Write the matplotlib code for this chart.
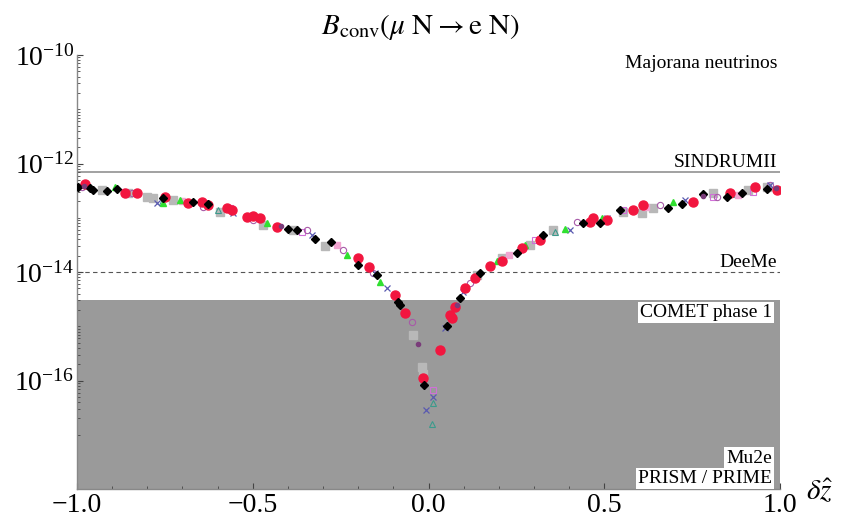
import numpy as np
import matplotlib
matplotlib.use("Agg")
import matplotlib.pyplot as plt
from matplotlib.ticker import FixedLocator, LogFormatterMathtext, MultipleLocator, NullFormatter

plt.rcParams['font.family'] = 'serif'
plt.rcParams['font.serif'] = ['Liberation Serif', 'DejaVu Serif']
plt.rcParams['mathtext.fontset'] = 'stix'

# ---------------- data (x = delta z-hat, values as log10 of B_conv) ----------------
red_x = [-0.977, -0.863, -0.830, -0.750, -0.684, -0.645, -0.627, -0.573, -0.560, -0.516, -0.500, -0.480,
         -0.430, -0.200, -0.170, -0.095, -0.067, -0.016, 0.033, 0.061, 0.067, 0.075, 0.104, 0.132, 0.175,
         0.209, 0.266, 0.317, 0.460, 0.468, 0.508, 0.582, 0.610, 0.752, 0.858, 0.929, 0.991]
red_log = [-12.38, -12.55, -12.54, -12.62, -12.73, -12.71, -12.77, -12.82, -12.86, -12.99, -12.97, -13.00,
           -13.17, -13.74, -13.91, -14.42, -14.76, -15.95, -15.44, -14.79, -14.85, -14.65, -14.29, -14.11, -13.89,
           -13.80, -13.56, -13.41, -13.08, -13.00, -13.04, -12.86, -12.76, -12.71, -12.54, -12.43, -12.49]

black_x = [-0.997, -0.963, -0.954, -0.915, -0.886, -0.755, -0.670, -0.627, -0.400, -0.374, -0.323, -0.277,
           -0.200, -0.147, -0.087, -0.081, -0.013, 0.053, 0.090, 0.147, 0.252, 0.326, 0.440, 0.488, 0.545,
           0.681, 0.721, 0.781, 0.849, 0.892, 0.963]
black_log = [-12.43, -12.45, -12.49, -12.51, -12.47, -12.64, -12.71, -12.75, -13.20, -13.23, -13.39, -13.45,
             -13.87, -14.06, -14.55, -14.61, -16.08, -15.00, -14.48, -14.02, -13.65, -13.32, -13.10, -13.10, -12.86,
             -12.82, -12.75, -12.56, -12.62, -12.54, -12.47]

gray_x = [-0.929, -0.855, -0.800, -0.784, -0.727, -0.593, -0.471, -0.385, -0.294, -0.044, -0.019, -0.016,
          0.138, 0.210, 0.289, 0.354, 0.553, 0.607, 0.639, 0.810, 0.909, 0.963]
gray_log = [-12.49, -12.54, -12.62, -12.64, -12.67, -12.89, -13.13, -13.23, -13.52, -15.16, -15.75, -15.88,
            -14.06, -13.74, -13.50, -13.23, -12.89, -12.91, -12.82, -12.54, -12.49, -12.43]

green_x = [-0.892, -0.755, -0.707, -0.460, -0.232, -0.138, 0.195, 0.275, 0.388, 0.494, 0.696]
green_log = [-12.43, -12.73, -12.67, -13.10, -13.69, -14.18, -13.80, -13.50, -13.21, -13.00, -12.71]

purple_x = [-0.986, -0.844, -0.642, -0.499, -0.346, -0.243, -0.158, -0.047, 0.118, 0.422, 0.659, 0.821, 0.972]
purple_log = [-12.43, -12.54, -12.80, -13.04, -13.23, -13.60, -14.02, -14.92, -14.20, -13.08, -12.76, -12.62, -12.40]

blue_x = [-0.772, -0.556, -0.331, -0.152, -0.118, -0.007, 0.013, 0.047, 0.098, 0.403, 0.508, 0.730, 0.972]
blue_log = [-12.73, -12.91, -13.32, -14.02, -14.29, -16.54, -16.30, -15.03, -14.37, -13.23, -13.00, -12.67, -12.40]

magenta_x = [-0.863, -0.565, -0.360, 0.013, 0.303, 0.553, 0.810, 0.923]
magenta_log = [-12.53, -12.82, -13.26, -16.18, -13.41, -12.86, -12.62, -12.53]

teal_x = [-0.758, -0.600, 0.010, 0.013, 0.360, 0.860]
teal_log = [-12.71, -12.85, -16.80, -16.41, -13.27, -12.57]

dpurple_x = [-0.980, -0.420, -0.030, 0.080, 0.780, 0.990]
dpurple_log = [-12.42, -13.15, -15.33, -14.60, -12.60, -12.45]

pink_x = [-0.700, -0.260, 0.230, 0.620, 0.880]
pink_log = [-12.70, -13.50, -13.68, -12.80, -12.58]

# experimental limits / sensitivities
sindrum = 7e-13
deeme = 1e-14
comet1 = 3e-15
ymin, ymax = 1e-18, 1e-10

# ---------------- figure ----------------
fig = plt.figure(figsize=(8.44, 5.19), dpi=100)
ax = fig.add_axes([77/844, 1-489/519, (780-77)/844, (489-55)/519])
ax.set_yscale('log')
ax.set_xlim(-1, 1)
ax.set_ylim(ymin, ymax)

ax.axhspan(ymin, comet1, color='#9a9a9a', lw=0, zorder=0)
ax.axhline(sindrum, color='#9a9a9a', lw=1.3, zorder=1)
ax.axhline(deeme, color='#555555', lw=0.8, ls=(0, (4, 3)), zorder=1)

def pts(x, lg):
    return np.array(x), 10.0 ** np.array(lg)

series = [
    (gray_x, gray_log, dict(marker='s', ms=5.5, mfc='#b8b8b8', mec='#b8b8b8')),
    (pink_x, pink_log, dict(marker='s', ms=4.5, mfc='#f2a6d2', mec='#f2a6d2')),
    (teal_x, teal_log, dict(marker='^', ms=4.5, mfc='none', mec='#3c9a8c', mew=0.8)),
    (magenta_x, magenta_log, dict(marker='s', ms=4.5, mfc='none', mec='#d070d8', mew=0.8)),
    (purple_x, purple_log, dict(marker='o', ms=4.5, mfc='none', mec='#a85aa8', mew=0.8)),
    (blue_x, blue_log, dict(marker='x', ms=4.5, mec='#5a5ab0', mew=0.9)),
    (green_x, green_log, dict(marker='^', ms=5, mfc='#30e030', mec='#30e030')),
    (red_x, red_log, dict(marker='o', ms=6.5, mfc='#f2163f', mec='#f2163f')),
    (black_x, black_log, dict(marker='D', ms=3.8, mfc='black', mec='black')),
    (dpurple_x, dpurple_log, dict(marker='o', ms=3, mfc='#7a3c7a', mec='#7a3c7a')),
]
for x, lg, kw in series:
    xx, yy = pts(x, lg)
    ax.plot(xx, yy, ls='none', zorder=3, **kw)

# axes styling
for s in ['top', 'right']:
    ax.spines[s].set_visible(False)
for s in ['left', 'bottom']:
    ax.spines[s].set_color('#888888')
    ax.spines[s].set_linewidth(1.0)

ax.xaxis.set_major_locator(FixedLocator([-1.0, -0.5, 0.0, 0.5, 1.0]))
ax.xaxis.set_minor_locator(MultipleLocator(0.1))
ax.set_xticklabels(['\u22121.0', '\u22120.5', '0.0', '0.5', '1.0'])
ax.yaxis.set_major_locator(FixedLocator([1e-16, 1e-14, 1e-12, 1e-10]))
minors = [m * 10.0 ** e for e in range(-17, -10) for m in range(1, 10) if not (m == 1 and e % 2 == 0)]
ax.yaxis.set_minor_locator(FixedLocator(minors))
ax.yaxis.set_major_formatter(LogFormatterMathtext())
ax.yaxis.set_minor_formatter(NullFormatter())
ax.tick_params(axis='both', which='major', direction='in', length=4, width=0.8, color='#444444',
               labelsize=20, pad=3)
ax.tick_params(axis='both', which='minor', direction='in', length=2.5, width=0.6, color='#444444')
ax.tick_params(axis='y', which='major', pad=2)

# labels
fig.text(420/844, 1-27/519, r'$B_{\rm conv}(\mu\ {\rm N} \rightarrow {\rm e\ N})$', ha='center', va='center',
         fontsize=21)
fig.text(820/844, 1-491/519, r'$\delta\hat{z}$', ha='center', va='center', fontsize=21)

tx = 0.992
ax.text(tx, 10**-10.15, 'Majorana neutrinos', ha='right', va='center', fontsize=14, zorder=5)
ax.text(tx, 10**-11.99, 'SINDRUMII', ha='right', va='center', fontsize=14, zorder=5)
ax.text(tx, 10**-13.83, 'DeeMe', ha='right', va='center', fontsize=14, zorder=5)
box = dict(facecolor='white', edgecolor='none', pad=1.5)
ax.text(0.978, 10**-14.74, 'COMET phase 1', ha='right', va='center', fontsize=14, zorder=5, bbox=box)
ax.text(0.978, 10**-17.43, 'Mu2e', ha='right', va='center', fontsize=14, zorder=5, bbox=box)
ax.text(0.978, 10**-17.80, 'PRISM / PRIME', ha='right', va='center', fontsize=14, zorder=5, bbox=box)

fig.savefig('out.png', dpi=100)
